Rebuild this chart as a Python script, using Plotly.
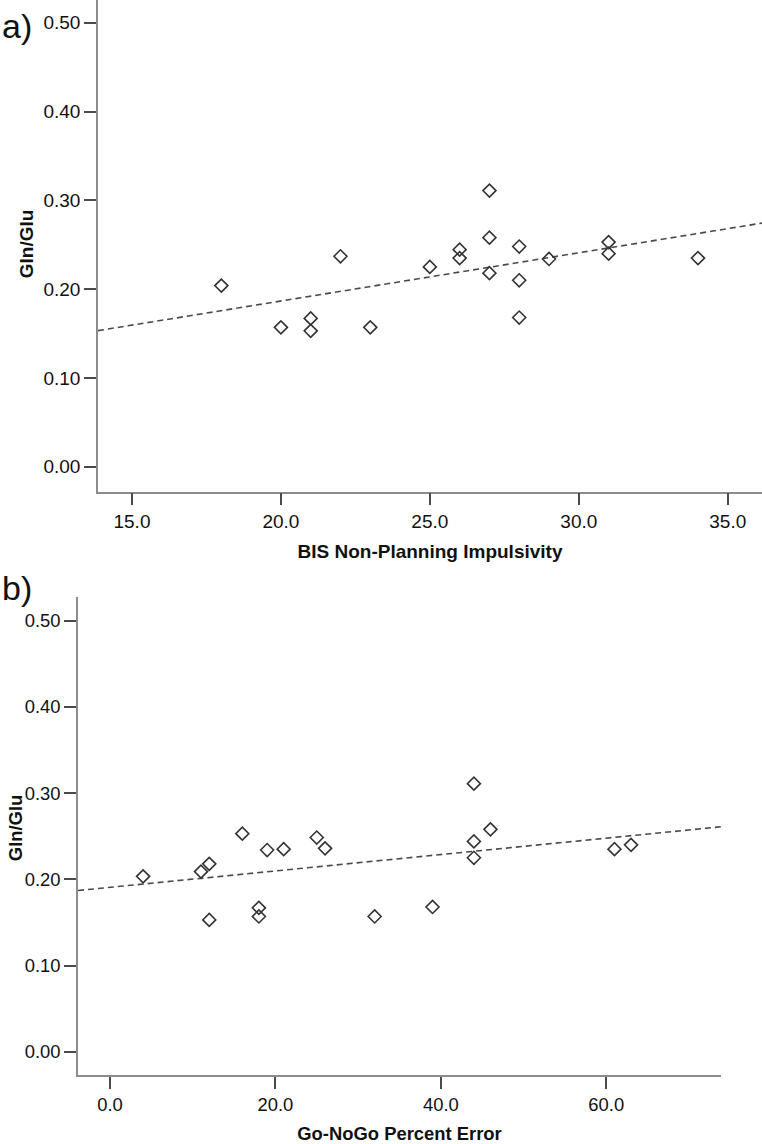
import numpy as np
import plotly.graph_objects as go

# ---- data ----
bis_x = [18, 20, 21, 21, 22, 23, 25, 26, 26, 27, 27, 27, 28, 28, 28, 29, 31, 31, 34]
bis_y = [0.204, 0.157, 0.167, 0.153, 0.237, 0.157, 0.225, 0.2445, 0.235, 0.311,
         0.258, 0.218, 0.248, 0.210, 0.168, 0.234, 0.253, 0.240, 0.235]

gng_x = [4, 11, 12, 12, 16, 18, 18, 19, 21, 25, 26, 32, 39, 44, 44, 44, 46, 61, 63]
gng_y = [0.2035, 0.209, 0.218, 0.153, 0.253, 0.167, 0.157, 0.234, 0.235, 0.2485,
         0.236, 0.157, 0.168, 0.311, 0.244, 0.225, 0.258, 0.235, 0.240]

y_ticks = [0.0, 0.1, 0.2, 0.3, 0.4, 0.5]
bis_ticks = [15, 20, 25, 30, 35]
gng_ticks = [0, 20, 40, 60]

bis_range = [13.86, 36.15]
gng_range = [-3.87, 73.88]
y_range_a = [-0.028, 0.5257]
y_range_b = [-0.0273, 0.5276]

W, H = 762, 1144
FONT = "Liberation Sans, Arial, sans-serif"


def fit_line(xs, ys, xr):
    m, b = np.polyfit(np.array(xs, float), np.array(ys, float), 1)
    return list(xr), [m * xr[0] + b, m * xr[1] + b]


fig = go.Figure()

marker = dict(symbol="diamond-open", size=10, color="#333333",
              line=dict(width=1.6, color="#333333"))
dash_line = dict(color="#4a4a4a", width=1.6, dash="6px,4px")

lx, ly = fit_line(bis_x, bis_y, bis_range)
fig.add_trace(go.Scatter(x=lx, y=ly, mode="lines", line=dash_line,
                         xaxis="x", yaxis="y", showlegend=False, hoverinfo="skip"))
fig.add_trace(go.Scatter(x=bis_x, y=bis_y, mode="markers", marker=marker,
                         xaxis="x", yaxis="y", showlegend=False))

lx2, ly2 = fit_line(gng_x, gng_y, gng_range)
fig.add_trace(go.Scatter(x=lx2, y=ly2, mode="lines", line=dash_line,
                         xaxis="x2", yaxis="y2", showlegend=False, hoverinfo="skip"))
fig.add_trace(go.Scatter(x=gng_x, y=gng_y, mode="markers", marker=marker,
                         xaxis="x2", yaxis="y2", showlegend=False))


def axis_style(fs):
    return dict(showline=True, linecolor="#8c8c8c", linewidth=1.6,
                ticks="outside", tickcolor="#4a4a4a", tickwidth=1.6, ticklen=12,
                showgrid=False, zeroline=False,
                tickfont=dict(family=FONT, size=fs, color="#111111"))


def title_font(fs):
    return dict(family=FONT, size=fs, color="#111111", weight="bold")


FS_A, FS_B = 19, 18.4

fig.update_layout(
    width=W, height=H,
    margin=dict(l=0, r=0, t=0, b=0),
    paper_bgcolor="white", plot_bgcolor="white",
    font=dict(family=FONT),
    xaxis=dict(domain=[98 / W, 1.0], anchor="y", range=bis_range,
               tickvals=bis_ticks, tickformat=".1f",
               title=dict(text="BIS Non-Planning Impulsivity", font=title_font(FS_A), standoff=14),
               **axis_style(FS_A)),
    yaxis=dict(domain=[1 - 495 / H, 1.0], anchor="x", range=y_range_a,
               tickvals=y_ticks, tickformat=".2f", **axis_style(FS_A)),
    xaxis2=dict(domain=[78 / W, 721 / W], anchor="y2", range=gng_range,
                tickvals=gng_ticks, tickformat=".1f",
                title=dict(text="Go-NoGo Percent Error", font=title_font(FS_B), standoff=16),
                **axis_style(FS_B)),
    yaxis2=dict(domain=[1 - 1083 / H, 1 - 601 / H], anchor="x2", range=y_range_b,
                tickvals=y_ticks, tickformat=".2f", **axis_style(FS_B)),
    annotations=[
        dict(text="a)", x=0, y=1 - 26 / H, xref="paper", yref="paper",
             xanchor="left", yanchor="middle", showarrow=False,
             font=dict(family=FONT, size=34, color="#111111")),
        dict(text="b)", x=0, y=1 - 592 / H, xref="paper", yref="paper",
             xanchor="left", yanchor="middle", showarrow=False,
             font=dict(family=FONT, size=34, color="#111111")),
        dict(text="Gln/Glu", x=26 / W, y=1 - 246 / H, xref="paper", yref="paper",
             xanchor="center", yanchor="middle", textangle=-90, showarrow=False,
             font=title_font(FS_A)),
        dict(text="Gln/Glu", x=15 / W, y=1 - 834 / H, xref="paper", yref="paper",
             xanchor="center", yanchor="middle", textangle=-90, showarrow=False,
             font=title_font(FS_B)),
    ],
)

fig.write_html(
    "out.html",
    config={"displayModeBar": False},
    post_script="document.body.style.margin='0';document.body.style.overflow='hidden';",
)
